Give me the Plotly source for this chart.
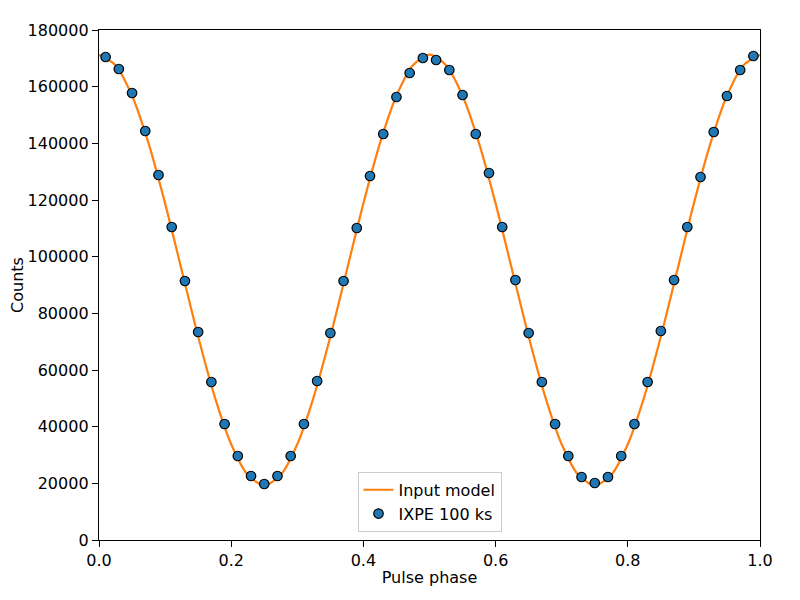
import plotly.graph_objects as go

# simulated pulse profile (points) and input model (line)
phase = [0.01, 0.03, 0.05, 0.07, 0.09, 0.11, 0.13, 0.15, 0.17, 0.19,
         0.21, 0.23, 0.25, 0.27, 0.29, 0.31, 0.33, 0.35, 0.37, 0.39,
         0.41, 0.43, 0.45, 0.47, 0.49, 0.51, 0.53, 0.55, 0.57, 0.59,
         0.61, 0.63, 0.65, 0.67, 0.69, 0.71, 0.73, 0.75, 0.77, 0.79,
         0.81, 0.83, 0.85, 0.87, 0.89, 0.91, 0.93, 0.95, 0.97, 0.99]
counts = [170470, 166235, 157765, 144353, 128824, 110470, 91412, 73412, 55765, 40941,
          29647, 22588, 19765, 22588, 29647, 40941, 56118, 73059, 91412, 110118,
          128471, 143294, 156353, 164824, 170118, 169412, 165882, 157059, 143294, 129529,
          110470, 91765, 73059, 55765, 40941, 29647, 22235, 20118, 22235, 29647,
          40941, 55765, 73765, 91765, 110470, 128118, 144000, 156706, 165882, 170824]
count_err = [410, 405, 395, 380, 360, 330, 300, 270, 235, 200,
             170, 150, 140, 150, 170, 200, 235, 270, 300, 330,
             360, 380, 395, 405, 410, 410, 405, 395, 380, 360,
             330, 300, 270, 235, 200, 170, 150, 140, 150, 170,
             200, 235, 270, 300, 330, 360, 380, 395, 405, 410]

model_phase = [0.0, 0.025, 0.05, 0.075, 0.1, 0.125, 0.15, 0.175, 0.2, 0.225,
               0.25, 0.275, 0.3, 0.325, 0.35, 0.375, 0.4, 0.425, 0.45, 0.475,
               0.5, 0.525, 0.55, 0.575, 0.6, 0.625, 0.65, 0.675, 0.7, 0.725,
               0.75, 0.775, 0.8, 0.825, 0.85, 0.875, 0.9, 0.925, 0.95, 0.975, 1.0]
model_counts = [171300, 167600, 156800, 140000, 118800, 95300, 71800, 50600, 33800, 23000,
                19300, 23000, 33800, 50600, 71800, 95300, 118800, 140000, 156800, 167600,
                171300, 167600, 156800, 140000, 118800, 95300, 71800, 50600, 33800, 23000,
                19300, 23000, 33800, 50600, 71800, 95300, 118800, 140000, 156800, 167600,
                171300]

x_ticks = [0, 0.2, 0.4, 0.6, 0.8, 1.0]
x_ticktext = ["0.0", "0.2", "0.4", "0.6", "0.8", "1.0"]

font = dict(family="DejaVu Sans", size=16, color="black")

fig = go.Figure()
fig.add_trace(go.Scatter(
    x=model_phase, y=model_counts, mode="lines", name="Input model",
    line=dict(color="#ff7f0e", width=2.2, shape="spline", smoothing=0.8),
))
fig.add_trace(go.Scatter(
    x=phase, y=counts, mode="markers", name="IXPE 100 ks",
    error_y=dict(type="data", array=count_err, color="#1f77b4", thickness=1.5, width=0),
    marker=dict(color="#1f77b4", size=9.5, line=dict(color="black", width=1.2)),
))

axis_common = dict(
    showgrid=False, zeroline=False, showline=True, linecolor="black", linewidth=1.4,
    mirror=True, ticks="outside", ticklen=6, tickwidth=1.3, tickcolor="black",
    tickfont=font, automargin=False,
)
fig.update_xaxes(range=[0, 1], tickvals=x_ticks, ticktext=x_ticktext,
                 title=dict(text="Pulse phase", font=font, standoff=2), **axis_common)
fig.update_yaxes(range=[0, 180000], dtick=20000, tickformat="d",
                 title=dict(text="Counts", font=font, standoff=6), **axis_common)

# page has an 8px body margin, so shift the plot area up/left to compensate
fig.update_layout(
    width=800, height=600,
    margin=dict(l=91, r=48, t=22, b=68),
    paper_bgcolor="white", plot_bgcolor="white",
    font=font,
    showlegend=True,
    legend=dict(x=0.5, y=0.016, xanchor="center", yanchor="bottom",
                bgcolor="rgba(255,255,255,0.8)", bordercolor="#cccccc", borderwidth=1,
                font=font, tracegroupgap=0),
)

fig.write_html("out.html")
